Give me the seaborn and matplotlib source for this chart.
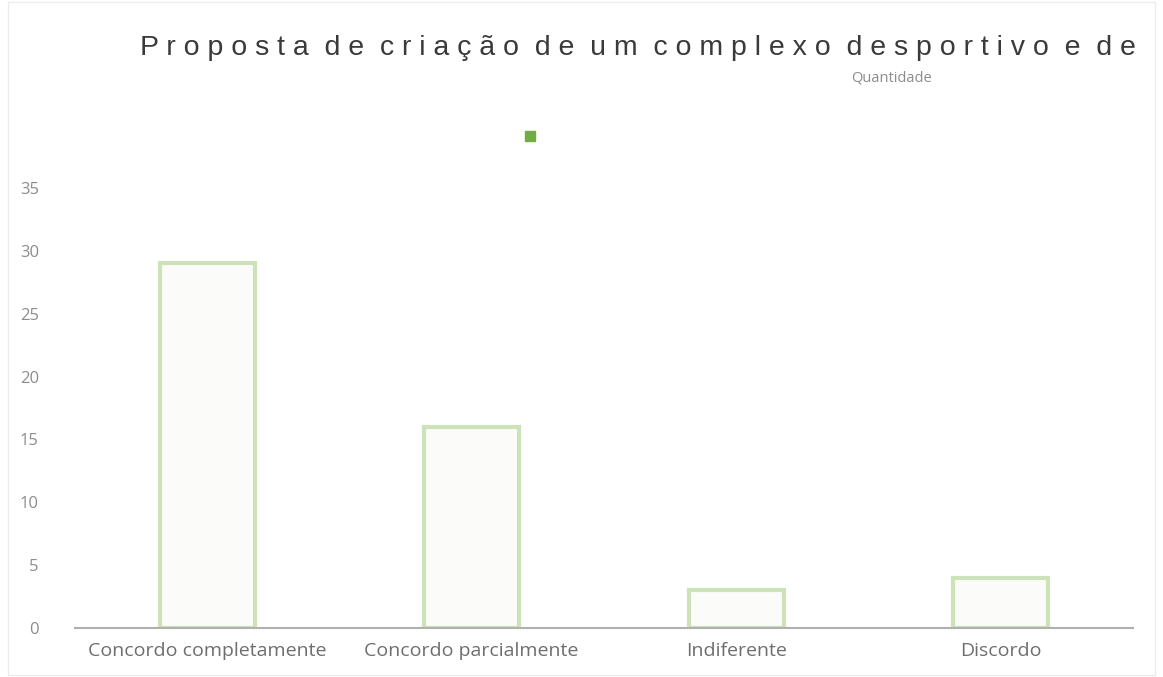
import matplotlib
matplotlib.use("Agg")
import matplotlib.pyplot as plt
import seaborn as sns
import pandas as pd

categories = ['Concordo completamente', 'Concordo parcialmente', 'Indiferente', 'Discordo']
quantidade = [29, 16, 3, 4]
y_ticks = [0, 5, 10, 15, 20, 25, 30, 35]

TITLE = "Proposta de criação de um complexo desportivo e de"
SERIES = "Quantidade"

df = pd.DataFrame({'categoria': categories, 'Quantidade': quantidade})

sns.set_style("white")
plt.rcParams['font.family'] = ['Open Sans', 'DejaVu Sans']

fig = plt.figure(figsize=(11.63, 6.77), dpi=100)
ax = fig.add_axes([0.0645, 0.0724, 0.9095, 0.6499])

sns.barplot(data=df, x='categoria', y='Quantidade', ax=ax, width=0.36,
            color='#fbfdf8', edgecolor='#cde2b9', linewidth=3)

ax.set_ylim(0, 35)
ax.set_xlim(-0.5, 3.5)
ax.set_yticks(y_ticks)
ax.set_yticklabels([str(t) for t in y_ticks], color='#8c8c8c', fontsize=12)
ax.tick_params(axis='y', length=0, pad=26)
ax.tick_params(axis='x', length=0, pad=10, labelsize=14, labelcolor='#6e6e6e')
ax.set_xlabel('')
ax.set_ylabel('')
for s in ['top', 'right', 'left']:
    ax.spines[s].set_visible(False)
ax.spines['bottom'].set_color('#b0b0b0')
ax.spines['bottom'].set_linewidth(1.5)

# spaced-out title, cut off at the right edge like the original
spaced = '  '.join(' '.join(w) for w in TITLE.split(' '))
fig.text(140 / 1163, 1 - 48 / 677, spaced, fontsize=20.5, color='#3a3a3a',
         ha='left', va='center', family=['Liberation Sans', 'DejaVu Sans'])
fig.text(891 / 1163, 1 - 78 / 677, SERIES, fontsize=10.5, color='#8c8c8c',
         ha='center', va='center')
fig.patches.append(plt.Rectangle((525 / 1163, 1 - 141 / 677), 10 / 1163, 10 / 677,
                                 transform=fig.transFigure, color='#70ad47'))

fig.patches.append(plt.Rectangle((8 / 1163, 2 / 677), 1147 / 1163, 673 / 677,
                                 transform=fig.transFigure, fill=False,
                                 edgecolor='#ececec', linewidth=1))

fig.savefig('out.png', dpi=100)
